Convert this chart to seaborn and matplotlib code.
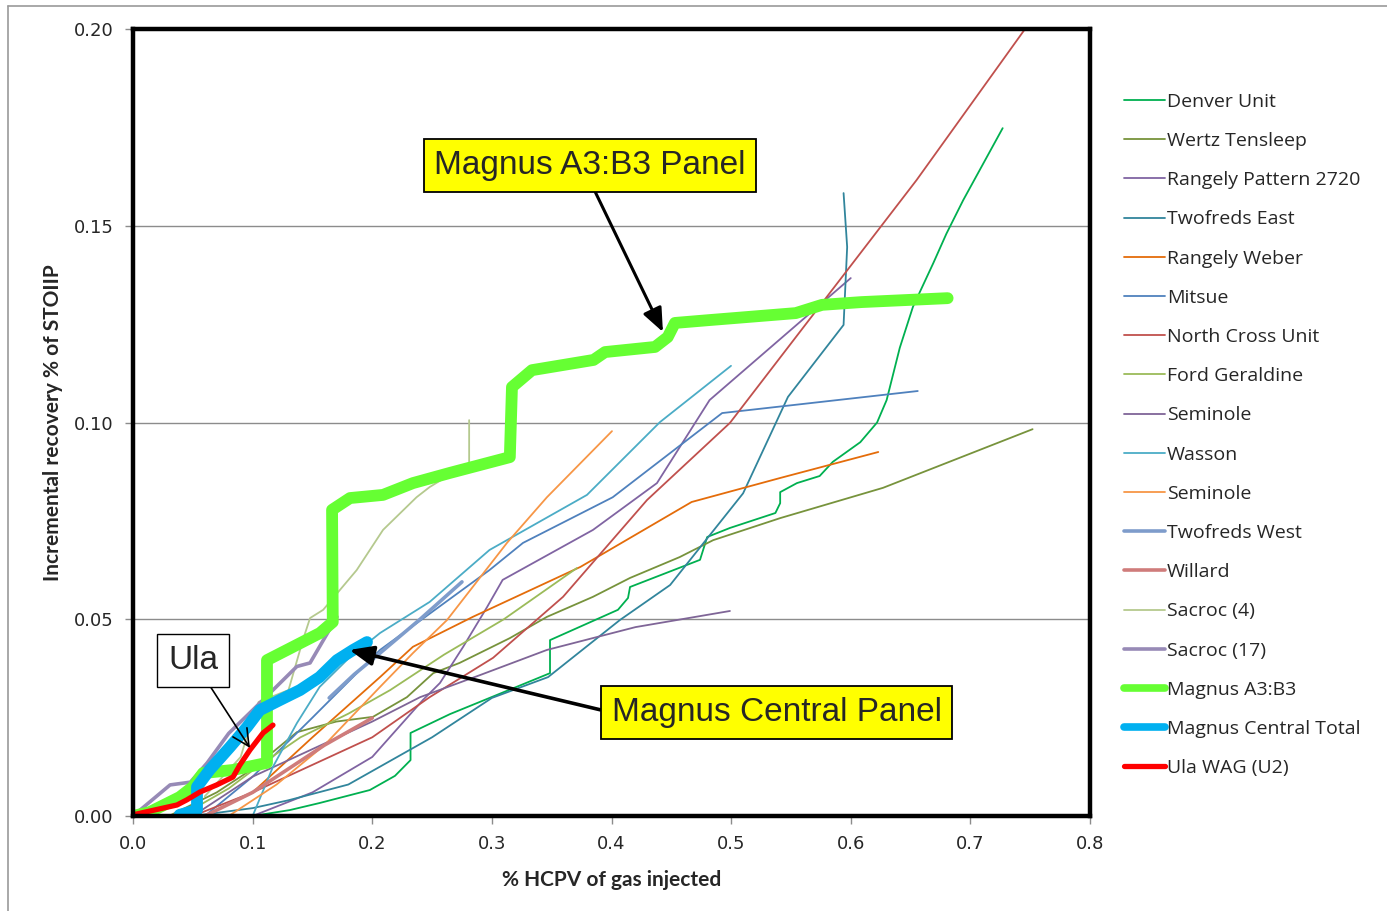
import matplotlib
matplotlib.use("Agg")
import matplotlib.pyplot as plt
import seaborn as sns
import pandas as pd
from matplotlib.lines import Line2D

# ---------------- data ----------------
denver_x = [0.100, 0.131, 0.156, 0.198, 0.219, 0.232, 0.232, 0.265, 0.290, 0.3486, 0.3486, 0.4054,
            0.4138, 0.4155, 0.474, 0.480, 0.499, 0.537, 0.541, 0.541, 0.555, 0.574, 0.585, 0.608,
            0.622, 0.630, 0.641, 0.652, 0.669, 0.680, 0.694, 0.727]
denver_y = [0.000, 0.0015, 0.0033, 0.0066, 0.0102, 0.0142, 0.0211, 0.0259, 0.029, 0.0363, 0.0447, 0.0524,
            0.0554, 0.0582, 0.0651, 0.0709, 0.0732, 0.077, 0.0795, 0.0823, 0.0846, 0.0864, 0.090, 0.095,
            0.100, 0.1057, 0.119, 0.1294, 0.1405, 0.148, 0.1565, 0.1748]

wertz_x = [0.03, 0.07, 0.10, 0.137, 0.17, 0.2006, 0.229, 0.251, 0.273, 0.315, 0.346, 0.3845, 0.4155,
           0.457, 0.485, 0.541, 0.627, 0.752]
wertz_y = [0.0, 0.006, 0.012, 0.0213, 0.024, 0.0252, 0.0302, 0.0363, 0.0389, 0.0452, 0.0506, 0.0557,
           0.0605, 0.0658, 0.0701, 0.0757, 0.0834, 0.0983]

rangely2720_x = [0.10, 0.15, 0.20, 0.2424, 0.2566, 0.276, 0.296, 0.309, 0.3845, 0.438, 0.482, 0.600]
rangely2720_y = [0.0, 0.006, 0.015, 0.0295, 0.0338, 0.043, 0.0531, 0.060, 0.0727, 0.0846, 0.1057, 0.1367]

twofreds_e_x = [0.05, 0.10, 0.13, 0.18, 0.25, 0.30, 0.347, 0.407, 0.449, 0.51, 0.5475, 0.594, 0.597, 0.594]
twofreds_e_y = [0.0, 0.002, 0.004, 0.008, 0.020, 0.030, 0.0353, 0.0498, 0.0587, 0.082, 0.1065, 0.1248, 0.1446, 0.1583]

rangely_weber_x = [0.06, 0.10, 0.15, 0.2065, 0.234, 0.284, 0.374, 0.467, 0.541, 0.623]
rangely_weber_y = [0.0, 0.006, 0.020, 0.0353, 0.043, 0.0506, 0.0633, 0.0798, 0.0859, 0.0925]

mitsue_x = [0.06, 0.10, 0.15, 0.2065, 0.298, 0.326, 0.401, 0.4925, 0.656]
mitsue_y = [0.0, 0.010, 0.025, 0.0422, 0.0625, 0.0694, 0.081, 0.1024, 0.108]

north_cross_x = [0.05, 0.10, 0.15, 0.20, 0.248, 0.301, 0.3595, 0.4297, 0.499, 0.655, 0.7457]
north_cross_y = [0.0, 0.006, 0.013, 0.020, 0.0302, 0.0402, 0.0557, 0.0803, 0.0999, 0.1616, 0.200]

ford_x = [0.04, 0.08, 0.104, 0.14, 0.18, 0.215, 0.26, 0.31, 0.371]
ford_y = [0.0, 0.007, 0.0125, 0.020, 0.026, 0.032, 0.041, 0.050, 0.063]

seminole1_x = [0.05, 0.10, 0.15, 0.20, 0.24, 0.29, 0.346, 0.42, 0.499]
seminole1_y = [0.0, 0.010, 0.017, 0.024, 0.0302, 0.0358, 0.0422, 0.048, 0.0521]

wasson_x = [0.10, 0.117, 0.137, 0.156, 0.18, 0.2065, 0.248, 0.298, 0.3795, 0.4405, 0.4999]
wasson_y = [0.0, 0.0125, 0.0236, 0.0328, 0.040, 0.0465, 0.0544, 0.0676, 0.0816, 0.1001, 0.1144]

seminole2_x = [0.08, 0.12, 0.16, 0.2065, 0.234, 0.2625, 0.3126, 0.346, 0.4004]
seminole2_y = [0.0, 0.008, 0.018, 0.0328, 0.0414, 0.0498, 0.0694, 0.081, 0.0978]

twofreds_w_x = [0.164, 0.185, 0.2065, 0.24, 0.275]
twofreds_w_y = [0.030, 0.036, 0.0414, 0.050, 0.0595]

willard_x = [0.06, 0.10, 0.13, 0.16, 0.20]
willard_y = [0.0, 0.006, 0.012, 0.018, 0.0249]

sacroc4_x = [0.06, 0.09, 0.10, 0.105, 0.13, 0.142, 0.148, 0.159, 0.187, 0.209, 0.237, 0.248, 0.281, 0.281]
sacroc4_y = [0.005, 0.015, 0.025, 0.029, 0.032, 0.0447, 0.0503, 0.0524, 0.0625, 0.0727, 0.081, 0.0836, 0.0897, 0.1006]

sacroc17_x = [0.0, 0.031, 0.048, 0.062, 0.080, 0.100, 0.137, 0.148, 0.1705]
sacroc17_y = [0.0, 0.0079, 0.0086, 0.0135, 0.021, 0.0269, 0.038, 0.0389, 0.0506]

magnus_a3_x = [0.0, 0.014, 0.039, 0.050, 0.0585, 0.0836, 0.112, 0.112, 0.1287, 0.1563, 0.167, 0.1664,
               0.1814, 0.209, 0.234, 0.265, 0.315, 0.3168, 0.3335, 0.385, 0.3946, 0.4364, 0.447, 0.453,
               0.4807, 0.554, 0.576, 0.609, 0.681]
magnus_a3_y = [0.0, 0.001, 0.0048, 0.0074, 0.0109, 0.0117, 0.0135, 0.0396, 0.0422, 0.0465, 0.0493, 0.0778,
               0.0808, 0.0816, 0.0846, 0.0872, 0.0912, 0.109, 0.1133, 0.1159, 0.1179, 0.1192, 0.1217, 0.1253,
               0.126, 0.1278, 0.1299, 0.1306, 0.1316]

magnus_central_x = [0.039, 0.0535, 0.0535, 0.064, 0.081, 0.0953, 0.106, 0.123, 0.1396, 0.156, 0.1705, 0.184, 0.1956]
magnus_central_y = [0.0003, 0.0015, 0.0074, 0.0117, 0.0175, 0.0226, 0.0269, 0.0295, 0.032, 0.0353, 0.0396, 0.0422, 0.0442]

ula_x = [0.0, 0.025, 0.0368, 0.045, 0.056, 0.070, 0.0836, 0.0894, 0.0978, 0.1087, 0.117]
ula_y = [0.0003, 0.002, 0.0028, 0.0041, 0.0061, 0.0079, 0.0099, 0.013, 0.0168, 0.0211, 0.0231]

x_ticks = [0.0, 0.1, 0.2, 0.3, 0.4, 0.5, 0.6, 0.7, 0.8]
y_ticks = [0.00, 0.05, 0.10, 0.15, 0.20]

# ---------------- series styles ----------------
series = [
    ("Denver Unit", denver_x, denver_y, "#00B050", 1.3),
    ("Wertz Tensleep", wertz_x, wertz_y, "#77933C", 1.3),
    ("Rangely Pattern 2720", rangely2720_x, rangely2720_y, "#8064A2", 1.3),
    ("Twofreds East", twofreds_e_x, twofreds_e_y, "#31859C", 1.3),
    ("Rangely Weber", rangely_weber_x, rangely_weber_y, "#E46C0A", 1.3),
    ("Mitsue", mitsue_x, mitsue_y, "#4F81BD", 1.3),
    ("North Cross Unit", north_cross_x, north_cross_y, "#C0504D", 1.3),
    ("Ford Geraldine", ford_x, ford_y, "#9BBB59", 1.3),
    ("Seminole", seminole1_x, seminole1_y, "#7F6597", 1.3),
    ("Wasson", wasson_x, wasson_y, "#4BACC6", 1.3),
    ("Seminole ", seminole2_x, seminole2_y, "#F79646", 1.3),
    ("Twofreds West", twofreds_w_x, twofreds_w_y, "#7E9CCB", 2.6),
    ("Willard", willard_x, willard_y, "#CF7C7B", 2.6),
    ("Sacroc (4)", sacroc4_x, sacroc4_y, "#B5C98E", 1.3),
    ("Sacroc (17)", sacroc17_x, sacroc17_y, "#978AB6", 2.6),
    ("Magnus A3:B3", magnus_a3_x, magnus_a3_y, "#66FF33", 8.5),
    ("Magnus Central Total", magnus_central_x, magnus_central_y, "#00B0F0", 8.5),
    ("Ula WAG (U2)", ula_x, ula_y, "#FF0000", 3.8),
]

sns.set_style("white")
plt.rcParams["font.family"] = ["DejaVu Sans"]

fig = plt.figure(figsize=(13.87, 9.11), dpi=100)
ax = fig.add_axes([133 / 1387, 1 - 816 / 911, (1090 - 133) / 1387, (816 - 29) / 911])

handles = []
for name, xs, ys, col, lw in series:
    df = pd.DataFrame({"x": xs, "y": ys})
    sns.lineplot(data=df, x="x", y="y", ax=ax, sort=False, estimator=None,
                 color=col, linewidth=lw, solid_capstyle="round", solid_joinstyle="round")
    handles.append(Line2D([0], [0], color=col, linewidth=min(lw, 5.5), solid_capstyle="round"))

ax.set_xlim(0, 0.8)
ax.set_ylim(0, 0.2)
ax.set_xticks(x_ticks)
ax.set_yticks(y_ticks)
ax.set_xticklabels([f"{v:.1f}" for v in x_ticks], fontsize=13)
ax.set_yticklabels([f"{v:.2f}" for v in y_ticks], fontsize=13)
ax.yaxis.grid(True, color="#8c8c8c", linewidth=1.0)
ax.xaxis.grid(False)
ax.set_axisbelow(True)
ax.tick_params(axis="both", which="major", direction="out", length=6, width=1,
               color="#8c8c8c", bottom=True, left=True, pad=8)
for s in ax.spines.values():
    s.set_color("black")
    s.set_linewidth(3.2)

ax.set_xlabel("% HCPV of gas injected", fontsize=15, fontweight="bold", family="Lato", labelpad=12)
ax.set_ylabel("Incremental recovery % of STOIIP", fontsize=15, fontweight="bold", family="Lato", labelpad=8)

# annotations
ax.annotate("Magnus A3:B3 Panel", xy=(0.443, 0.123), xytext=(0.382, 0.1653),
            fontsize=24, family="Liberation Sans", ha="center", va="center",
            bbox=dict(boxstyle="square,pad=0.32", fc="#FFFF00", ec="black", lw=1.3),
            arrowprops=dict(arrowstyle="-|>,head_length=0.6,head_width=0.25", color="black",
                            lw=2.2, relpos=(0.5, 0.0), shrinkA=0, shrinkB=0))
ax.annotate("Magnus Central Panel", xy=(0.181, 0.0422), xytext=(0.538, 0.0263),
            fontsize=24, family="Liberation Sans", ha="center", va="center",
            bbox=dict(boxstyle="square,pad=0.32", fc="#FFFF00", ec="black", lw=1.3),
            arrowprops=dict(arrowstyle="-|>,head_length=0.6,head_width=0.25", color="black",
                            lw=2.6, relpos=(0.0, 0.5), shrinkA=0, shrinkB=0))
ax.annotate("Ula", xy=(0.0978, 0.0173), xytext=(0.0502, 0.0395),
            fontsize=24, family="Liberation Sans", ha="center", va="center",
            bbox=dict(boxstyle="square,pad=0.32", fc="white", ec="black", lw=1.0),
            arrowprops=dict(arrowstyle="->,head_length=0.5,head_width=0.25", color="black",
                            lw=1.2, relpos=(0.71, 0.0), shrinkA=0, shrinkB=0))

labels = [s[0].strip() for s in series]
leg = fig.legend(handles, labels, loc="center left", bbox_to_anchor=(1124 / 1387, 1 - 435 / 911),
                 frameon=False, handlelength=2.1, handletextpad=0.1,
                 labelspacing=1.09, borderpad=0, borderaxespad=0,
                 prop={"family": "Open Sans", "size": 14})

# outer frame (top and left edges of the chart area)
fig.add_artist(Line2D([8 / 1387, 1.0], [1 - 6 / 911, 1 - 6 / 911], transform=fig.transFigure,
                      color="#9a9a9a", linewidth=1.2))
fig.add_artist(Line2D([8 / 1387, 8 / 1387], [0, 1 - 6 / 911], transform=fig.transFigure,
                      color="#9a9a9a", linewidth=1.2))

fig.savefig("out.png", dpi=100)
